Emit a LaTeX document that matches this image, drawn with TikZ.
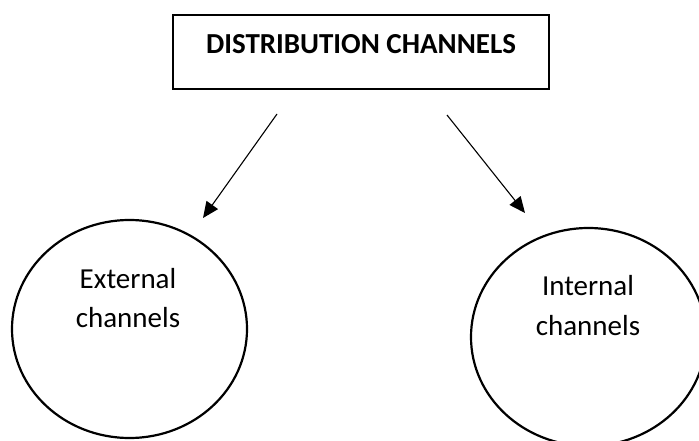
\documentclass[tikz,border=0pt]{standalone}
\usepackage{fontspec}
\setmainfont{Carlito}
\usetikzlibrary{arrows.meta,shapes.geometric}
\tikzset{
  titlebox/.style={draw=black, line width=2.2pt, minimum width=376pt, minimum height=74pt, inner sep=0pt},
  titletext/.style={font=\fontsize{29}{34}\selectfont\bfseries, inner sep=0pt, anchor=base},
  chan/.style={draw=black, line width=2.2pt, ellipse, minimum width=235pt, minimum height=218pt, inner sep=0pt},
  chantext/.style={font=\fontsize{29}{34}\selectfont, inner sep=0pt, anchor=base},
  arr/.style={line width=1.1pt, -{Triangle[length=16pt,width=14pt]}}
}
\begin{document}
\begin{tikzpicture}[x=1pt,y=-1pt]
\useasboundingbox (0,0) rectangle (699,441);
\clip (0,0) rectangle (699,441);
\fill[white] (0,0) rectangle (699,441);
% title
\node[titlebox] (box) at (361,52) {};
\node[titletext] (title) at (361,53.5) {DISTRIBUTION CHANNELS};
% circles
\node[chan] (ext) at (129.5,329) {};
\node[chan] (int) at (588.5,337) {};
\node[chantext] (ext1) at (128,288) {External};
\node[chantext] (ext2) at (128,327) {channels};
\node[chantext] (int1) at (588,295) {Internal};
\node[chantext] (int2) at (588,335) {channels};
% arrows
\coordinate (a1s) at (277,114);
\coordinate (a1e) at (203,218);
\coordinate (a2s) at (447,115);
\coordinate (a2e) at (525,213);
\draw[arr] (a1s) -- (a1e);
\draw[arr] (a2s) -- (a2e);
\end{tikzpicture}
\end{document}
